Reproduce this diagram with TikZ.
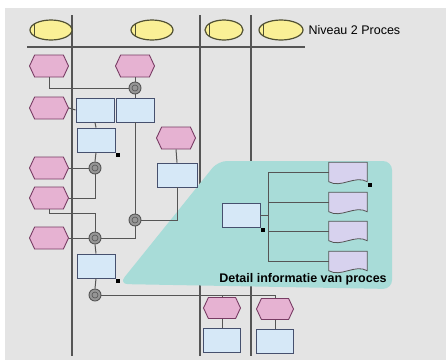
\documentclass[tikz,border=0pt]{standalone}
\usepackage{fontspec}
\setmainfont{Liberation Sans}
\usetikzlibrary{shapes.geometric,shapes.symbols}

\begin{document}
\begin{tikzpicture}[x=1pt,y=-1pt,
    lane/.style={draw=lanegray,line width=1.3pt},
    conn/.style={draw=lanegray,line width=1pt},
    orgunit/.style={ellipse,fill=orgyellow,draw=orgline,line width=1.2pt,minimum width=42pt,minimum height=20pt,inner sep=0pt},
    event/.style={signal,signal to=west and east,signal pointer angle=130,fill=evpink,draw=evline,line width=0.9pt,minimum width=39pt,minimum height=22pt,inner sep=0pt},
    func/.style={rectangle,fill=fcblue,draw=fcline,line width=0.9pt,minimum width=38pt,minimum height=24pt,inner sep=0pt},
    xop/.style={circle,fill=opgray,draw=lanegray,line width=0.9pt,minimum size=12pt,inner sep=0pt},
    docu/.style={rectangle,minimum width=38pt,minimum height=19pt,inner sep=0pt}]
    \definecolor{bggray}{RGB}{228,228,228}
    \definecolor{lanegray}{RGB}{85,85,85}
    \definecolor{evpink}{RGB}{230,178,210}
    \definecolor{evline}{RGB}{120,60,100}
    \definecolor{fcblue}{RGB}{214,232,247}
    \definecolor{fcline}{RGB}{70,80,110}
    \definecolor{opgray}{RGB}{150,150,150}
    \definecolor{orgyellow}{RGB}{250,240,150}
    \definecolor{orgline}{RGB}{80,80,50}
    \definecolor{detailteal}{RGB}{168,220,216}
    \definecolor{doclav}{RGB}{215,210,238}

    \useasboundingbox (0,0) rectangle (446,360);
    \fill[bggray] (5,8) rectangle (446,360);

    %% lanes
    \foreach \x in {72,200,251} \draw[lane] (\x,15) -- (\x,356);
    \draw[lane] (27,47) -- (305,47);

    %% header
    \node[orgunit] (org1) at (51,30) {};
    \node[orgunit] (org2) at (152,30) {};
    \node[orgunit,minimum width=38pt] (org3) at (224,30) {};
    \node[orgunit,minimum width=44pt] (org4) at (281,30) {};
    \foreach \o in {org1,org2,org3,org4}
        \draw[orgline,line width=0.8pt] ([xshift=5pt,yshift=-6pt]\o.west) -- ([xshift=5pt,yshift=6pt]\o.west);
    \node[anchor=west,font=\fontsize{12.5}{14}\selectfont] (title) at (305,30) {Niveau 2 Proces};

    %% detail callout
    \fill[detailteal,rounded corners=9pt] (119,284) -- (218,161) -- (392,161) -- (392,289) -- cycle;

    %% events
    \node[event] (e1) at (49,66) {};
    \node[event] (e2) at (135,66) {};
    \node[event] (e3) at (49,108) {};
    \node[event] (e4) at (176,138) {};
    \node[event] (e5) at (49,168) {};
    \node[event] (e6) at (49,198) {};
    \node[event] (e7) at (49,238) {};
    \node[event,minimum width=37pt,minimum height=21pt] (e8) at (222,308) {};
    \node[event,minimum width=37pt,minimum height=21pt] (e9) at (275,309) {};

    %% functions
    \node[func] (fA) at (95,110) {};
    \node[func] (fB) at (135,110) {};
    \node[func] (fC) at (96,140) {};
    \node[func,minimum width=40pt] (fE) at (177,175) {};
    \node[func] (fD) at (96,266) {};
    \node[func] (fG) at (241,215) {};
    \node[func,minimum width=37pt] (fH) at (222,340) {};
    \node[func,minimum width=37pt] (fI) at (275,341) {};

    %% operators
    \node[xop] (o1) at (135,88) {};
    \node[xop] (o2) at (95,168) {};
    \node[xop] (o3) at (135,220) {};
    \node[xop] (o4) at (95,238) {};
    \node[xop] (o5) at (95,295) {};
    \foreach \o in {o1,o2,o3,o4,o5} \draw[lanegray,line width=0.6pt] (\o) circle (3pt);

    \coordinate (j1) at (95,213);

    %% connectors
    \draw[conn] (e1.south) |- (o1.west);
    \draw[conn] (e2.south) -- (o1.north);
    \draw[conn] (o1.south) -- (fB.north);
    \draw[conn] (e3.east) -- (fA.west);
    \draw[conn] (fA.south) -- (fC.north);
    \draw[conn] (fC.south) -- (o2.north);
    \draw[conn] (e5.east) -- (o2.west);
    \draw[conn] (e6.east) -| (o2.south);
    \draw[conn] (e6.south) |- (j1) -- (o4.north);
    \draw[conn] (e7.east) -- (o4.west);
    \draw[conn] (fB.south) -- (o3.north);
    \draw[conn] (e4.south) -- (fE.north);
    \draw[conn] (fE.south) |- (o3.east);
    \draw[conn] (o3.south) |- (o4.east);
    \draw[conn] (o4.south) -- (fD.north);
    \draw[conn] (fD.south) -- (o5.north);
    \draw[conn] (o5.east) -- (o5.east -| e9.north) -- (e9.north);
    \draw[conn] (o5.east -| e8.north) -- (e8.north);
    \draw[conn] (e8.south) -- (fH.north);
    \draw[conn] (e9.south) -- (fI.north);

    %% documents
    \coordinate (bus1) at (268,173);
    \coordinate (bus4) at (268,262);
    \draw[conn] (bus1) -- (bus4);
    \draw[conn] (fG.east) -- (fG.east -| bus1);
    \foreach \d/\y in {d1/172,d2/202,d3/231,d4/261} {
        \node[docu] (\d) at (348,\y) {};
        \filldraw[fill=doclav,draw=lanegray,line width=0.8pt] (\d.south west) -- (\d.north west) -- (\d.north east) -- (\d.south east)
            .. controls ([xshift=-12pt,yshift=7pt]\d.south east) and ([xshift=12pt,yshift=-7pt]\d.south west) .. (\d.south west) -- cycle;
        \draw[conn] (\d.west -| bus1) -- (\d.west);
    }

    %% link marks
    \foreach \n in {fC,fD,fG,d1}
        \fill[black] ([xshift=1pt,yshift=-1pt]\n.south east) rectangle ++(4,4);

    \node[font=\bfseries\fontsize{12.5}{14}\selectfont] (detail) at (303,279) {Detail informatie van proces};

\end{tikzpicture}
\end{document}
